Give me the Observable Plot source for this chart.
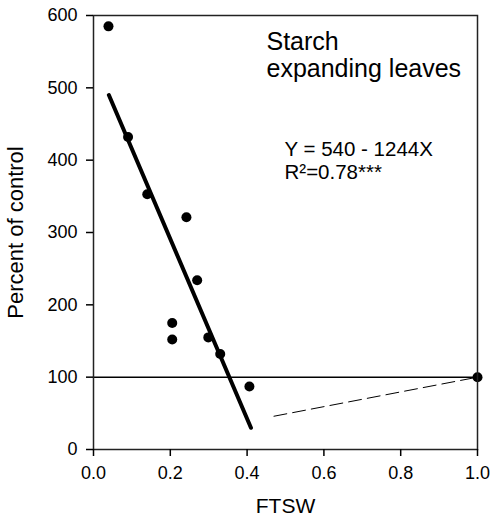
<!DOCTYPE html>
<html>
<head>
<meta charset="utf-8">
<script src="https://cdn.jsdelivr.net/npm/d3@7"></script>
<script src="https://cdn.jsdelivr.net/npm/@observablehq/plot@0.6"></script>
<style>
  body { margin: 0; background: white; }
</style>
</head>
<body>
<div id="chart"></div>
<script>
// Observed points (FTSW, percent of control)
const ftsw    = [0.039, 0.090, 0.140, 0.242, 0.270, 0.205, 0.205, 0.299, 0.330, 0.406, 1.0];
const percent = [585,   432,   353,   321,   234,   175,   152,   155,   132,   87,    100];

// Fitted regression segment (Y = 540 - 1244X)
const fitX = [0.04, 0.41];
const fitY = [490, 30];

// Dashed segment to the control point
const dashX = [0.47, 1.0];
const dashY = [46, 100];

// Reference line
const controlLevel = [100];

// Ticks
const xTicks = [0, 0.2, 0.4, 0.6, 0.8, 1.0];
const yTicks = [0, 100, 200, 300, 400, 500, 600];

// Texts
const xLabel = "FTSW";
const yLabel = "Percent of control";
const title = "Starch\nexpanding leaves";
const equation = ["Y = 540 - 1244X", "R²=0.78***"];

const points = ftsw.map((x, i) => ({x, y: percent[i]}));
const fit = fitX.map((x, i) => ({x, y: fitY[i]}));
const dash = dashX.map((x, i) => ({x, y: dashY[i]}));

const chart = Plot.plot({
  width: 492,
  height: 526,
  marginLeft: 93,
  marginRight: 15,
  marginTop: 15,
  marginBottom: 77,
  style: {fontFamily: "'Liberation Sans', Arial, sans-serif", fontSize: "18px", color: "black", background: "white"},
  x: {domain: [0, 1]},
  y: {domain: [0, 600]},
  marks: [
    Plot.ruleY(controlLevel, {stroke: "black", strokeWidth: 1.5}),
    Plot.line(dash, {x: "x", y: "y", stroke: "black", strokeWidth: 1, strokeDasharray: "13,6"}),
    Plot.line(fit, {x: "x", y: "y", stroke: "black", strokeWidth: 4}),
    Plot.dot(points, {x: "x", y: "y", r: 5, fill: "black", stroke: null}),
    Plot.frame({stroke: "#222", strokeWidth: 1.5}),
    Plot.axisY(yTicks, {tickSize: 7, tickPadding: 9, label: null, fontSize: 18, strokeWidth: 1.5}),
    Plot.axisX(xTicks, {tickSize: 7, tickPadding: 10, label: null, fontSize: 18, strokeWidth: 1.5, tickFormat: d3.format(".1f")}),
    Plot.text([xLabel], {frameAnchor: "bottom", dy: 63, text: d => d, fontSize: 21, fill: "black"}),
    Plot.text([yLabel], {frameAnchor: "left", dx: -78, rotate: -90, textAnchor: "middle", text: d => d, fontSize: 22, fill: "black"}),
    Plot.text([title], {frameAnchor: "top-left", dx: 173, dy: 16, text: d => d, textAnchor: "start", lineAnchor: "top", fontSize: 25, lineHeight: 1.06, fill: "black"}),
    Plot.text([equation[0]], {frameAnchor: "top-left", dx: 191, dy: 126, text: d => d, textAnchor: "start", lineAnchor: "top", fontSize: 20.5, fill: "black"}),
    Plot.text([equation[1]], {frameAnchor: "top-left", dx: 191, dy: 149, text: d => d, textAnchor: "start", lineAnchor: "top", fontSize: 20.5, fill: "black"})
  ]
});
document.getElementById("chart").appendChild(chart);
</script>
</body>
</html>
